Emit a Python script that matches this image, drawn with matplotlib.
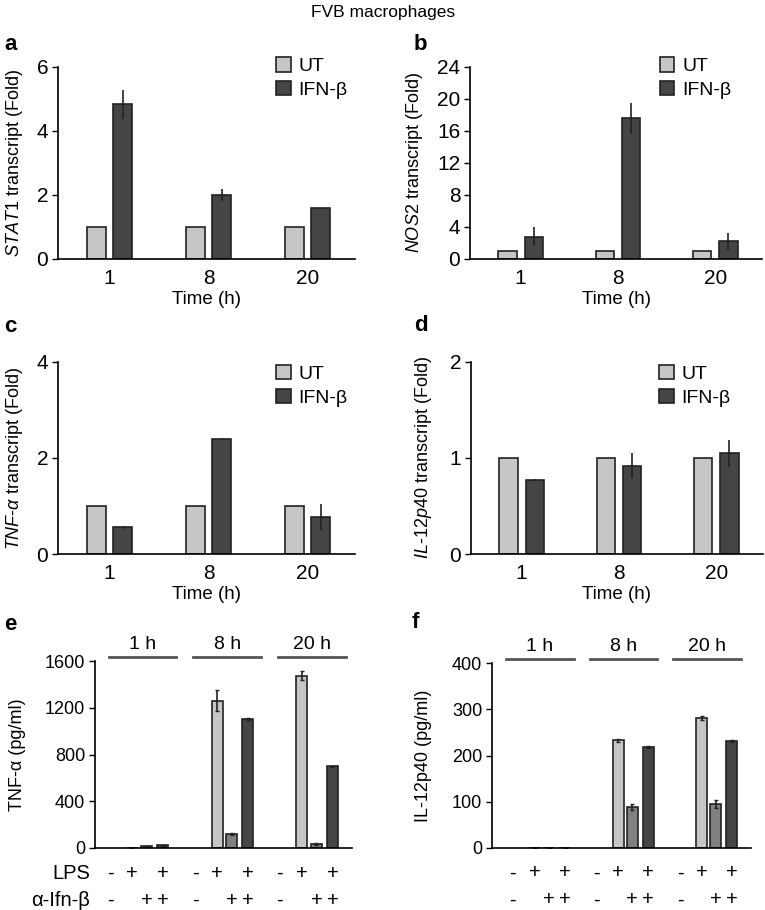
import numpy as np
import matplotlib
matplotlib.use("Agg")
import matplotlib.pyplot as plt

plt.rcParams['font.family'] = ['Liberation Sans', 'DejaVu Sans']
plt.rcParams['mathtext.fontset'] = 'custom'
plt.rcParams['mathtext.rm'] = 'Liberation Sans'
plt.rcParams['mathtext.it'] = 'Liberation Sans:italic'

# ---- data ----
times = ['1', '8', '20']
ut = [1, 1, 1]

stat1_ifn = [4.83, 2.0, 1.59]
stat1_err = [0.46, 0.19, 0.0]
nos2_ifn = [2.8, 17.6, 2.2]
nos2_err = [1.17, 1.95, 1.04]
tnf_ifn = [0.56, 2.39, 0.77]
tnf_err = [0.03, 0.02, 0.27]
il12_ifn = [0.77, 0.92, 1.05]
il12_err = [0.01, 0.13, 0.14]

hours = ['1 h', '8 h', '20 h']
lps_signs = ['-', '+', '', '+']
anti_signs = ['-', '', '+', '+']

tnf_lps = [0, 1260, 1475]
tnf_lps_err = [0, 90, 40]
tnf_anti = [15, 120, 35]
tnf_anti_err = [5, 10, 8]
tnf_both = [25, 1105, 700]
tnf_both_err = [4, 6, 5]

il_lps = [0, 233, 281]
il_lps_err = [0, 3, 4]
il_anti = [0, 89, 95]
il_anti_err = [0, 6, 8]
il_both = [0, 219, 231]
il_both_err = [0, 2, 2]

LIGHT = '#c6c6c6'
MID = '#808080'
DARK = '#454545'
W, H = 765, 910


def add_ax(left, right, top, bottom):
    return fig.add_axes([left / W, 1 - bottom / H, (right - left) / W, (bottom - top) / H])


def style(ax):
    for s in ['top', 'right']:
        ax.spines[s].set_visible(False)
    ax.spines['left'].set_linewidth(1.2)
    ax.spines['bottom'].set_linewidth(1.2)
    ax.tick_params(axis='x', length=0, pad=7, labelsize=15)
    ax.tick_params(axis='y', length=4, width=1, pad=3, labelsize=15)


def fold_panel(ax, ifn, err, ymax, yticks, ylabel, leg_x, leg_y, lab_x):
    x = np.arange(len(times))
    ekw = dict(elinewidth=1.2, ecolor='#222222', capsize=0)
    ax.bar(x - 0.135, ut, 0.19, color=LIGHT, edgecolor='#222222', lw=1.2, label='UT')
    ax.bar(x + 0.135, ifn, 0.19, color=DARK, edgecolor='#222222', lw=1.2,
           yerr=err, error_kw=ekw, label='IFN-β')
    ax.set_xlim(-0.52, 2.48)
    ax.set_ylim(0, ymax)
    ax.set_yticks(yticks)
    ax.set_xticks(x)
    ax.set_xticklabels(times)
    style(ax)
    ax.set_ylabel(ylabel, fontsize=13)
    ax.yaxis.set_label_coords(lab_x, 0.5)
    ax.set_xlabel('Time (h)', fontsize=13.5)
    ax.xaxis.set_label_coords(0.5, -0.165)
    ax.legend(loc='upper left', bbox_to_anchor=(leg_x, leg_y), frameon=False,
              fontsize=14, handlelength=0.75, handleheight=0.75, handletextpad=0.4,
              labelspacing=0.3, borderpad=0, borderaxespad=0)


def elisa_panel(ax, lps, lps_e, anti, anti_e, both, both_e, ymax, yticks, ylabel,
                xlim, br, lab_x, row_labels):
    g = np.arange(len(hours))
    offs = [0.0, 0.26, 0.43, 0.62]
    ekw = dict(elinewidth=1.2, ecolor='#222222', capsize=1.5)
    ax.bar(g + offs[1], lps, 0.13, color=LIGHT, edgecolor='#222222', lw=1.2,
           yerr=lps_e, error_kw=ekw)
    ax.bar(g + offs[2], anti, 0.13, color=MID, edgecolor='#222222', lw=1.2,
           yerr=anti_e, error_kw=ekw)
    ax.bar(g + offs[3], both, 0.13, color=DARK, edgecolor='#222222', lw=1.2,
           yerr=both_e, error_kw=ekw)
    ax.set_xlim(*xlim)
    ax.set_ylim(0, ymax)
    ax.set_yticks(yticks)
    ax.set_xticks([])
    style(ax)
    ax.tick_params(axis='y', labelsize=13)
    ax.set_ylabel(ylabel, fontsize=13)
    ax.yaxis.set_label_coords(lab_x, 0.5)
    tr = ax.get_xaxis_transform()
    for i, h in enumerate(hours):
        ax.plot([i + br[0], i + br[1]], [1.02, 1.02], transform=tr, color='#555555',
                lw=2, clip_on=False)
        ax.text(i + (br[0] + br[1]) / 2, 1.045, h, transform=tr, ha='center',
                va='bottom', fontsize=14)
        for j in range(4):
            ax.text(i + offs[j], -0.135, lps_signs[j], transform=tr, ha='center',
                    va='center', fontsize=14.5)
            ax.text(i + offs[j], -0.28, anti_signs[j], transform=tr, ha='center',
                    va='center', fontsize=14.5)
    if row_labels:
        ax.text(-0.02, -0.135, 'LPS', transform=ax.transAxes, ha='right',
                va='center', fontsize=14.5)
        ax.text(-0.02, -0.28, 'α-Ifn-β', transform=ax.transAxes, ha='right',
                va='center', fontsize=14.5)


fig = plt.figure(figsize=(W / 100, H / 100), dpi=100)
fig.text(383 / W, 1 - 13 / H, 'FVB macrophages', ha='center', va='center', fontsize=12.5)

ax_a = add_ax(58, 355, 67, 259)
fold_panel(ax_a, stat1_ifn, stat1_err, 6, [0, 2, 4, 6],
           r'$\it{STAT1}$ transcript (Fold)', 0.735, 1.05, -0.11)
ax_b = add_ax(470, 762, 67, 259)
fold_panel(ax_b, nos2_ifn, nos2_err, 24, [0, 4, 8, 12, 16, 20, 24],
           r'$\it{NOS2}$ transcript (Fold)', 0.65, 1.05, -0.155)
ax_c = add_ax(58, 355, 362, 554)
fold_panel(ax_c, tnf_ifn, tnf_err, 4, [0, 2, 4],
           r'$\it{TNF}$-$\it{α}$ transcript (Fold)', 0.735, 0.985, -0.11)
ax_d = add_ax(471, 763, 362, 554)
fold_panel(ax_d, il12_ifn, il12_err, 2, [0, 1, 2],
           r'$\it{IL}$-$\it{12p40}$ transcript (Fold)', 0.645, 0.985, -0.125)

ax_e = add_ax(95, 352, 661, 848)
elisa_panel(ax_e, tnf_lps, tnf_lps_err, tnf_anti, tnf_anti_err, tnf_both, tnf_both_err,
            1600, [0, 400, 800, 1200, 1600], 'TNF-α (pg/ml)', (-0.18, 2.85),
            (-0.02, 0.78), -0.27, True)
ax_f = add_ax(492, 751, 663, 848)
elisa_panel(ax_f, il_lps, il_lps_err, il_anti, il_anti_err, il_both, il_both_err,
            400, [0, 100, 200, 300, 400], 'IL-12p40 (pg/ml)', (-0.25, 2.85),
            (-0.08, 0.73), -0.23, False)

for lab, x, y in [('a', 4, 45), ('b', 414, 45), ('c', 4, 327), ('d', 414, 325),
                  ('e', 4, 625), ('f', 412, 623)]:
    fig.text(x / W, 1 - y / H, lab, fontsize=16, fontweight='bold', va='center')

plt.savefig('out.png', dpi=100)
